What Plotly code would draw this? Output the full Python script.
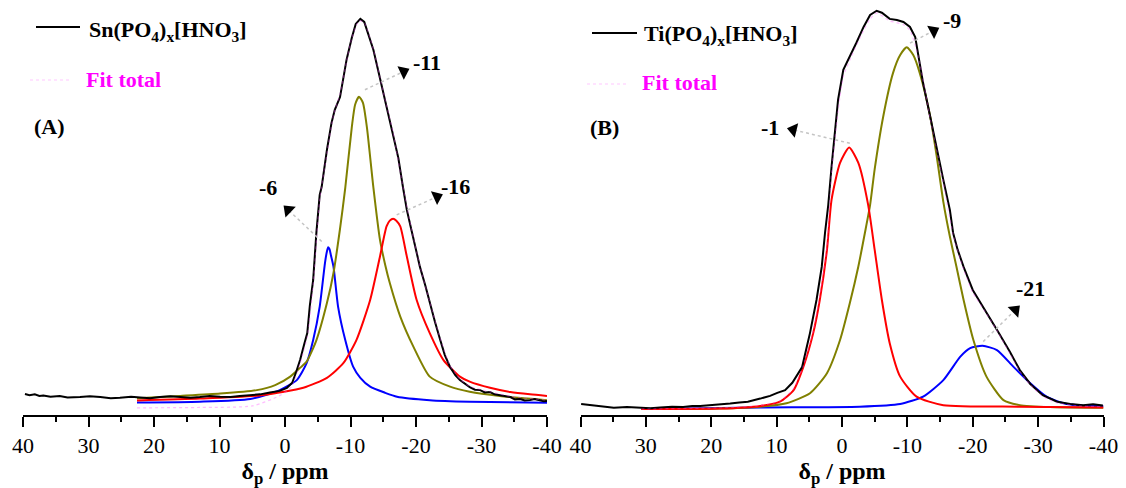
import plotly.graph_objects as go

# ---------------- Panel A : Sn(PO4)x[HNO3] ----------------
sn_exp_ppm = [39.7, 39.0, 38.2, 37.5, 36.9, 35.8, 34.4, 33.2, 31.3, 29.8, 28.2, 26.6, 25.2, 23.5, 22.1, 20.6,
              19.1, 17.5, 16.0, 14.4, 13.0, 11.5, 9.9, 8.3, 6.9, 5.3, 3.8, 2.3, 0.8, -0.3, -1.1, -1.7, -2.3,
              -2.9, -3.4, -3.8, -4.3, -4.8, -5.3, -5.6, -6.4, -7.1, -7.6, -8.4, -9.4, -10.2, -10.8, -11.5,
              -12.1, -12.7, -13.5, -14.2, -15.0, -15.7, -16.5, -17.3, -18.0, -18.6, -19.3, -20.0, -20.6,
              -21.4, -22.1, -22.9, -23.7, -24.4, -25.2, -26.0, -26.7, -27.5, -28.2, -29.0, -29.8, -30.5,
              -31.3, -32.0, -32.8, -33.6, -34.4, -35.1, -35.9, -36.6, -37.4, -38.1, -38.9, -39.5, -40.0]
sn_exp_int = [2.6, 2.3, 2.5, 2.1, 2.2, 1.9, 2.1, 1.7, 1.8, 2.0, 1.8, 1.5, 1.6, 1.9, 1.7, 1.5,
              1.8, 2.0, 1.8, 1.6, 1.8, 2.1, 1.9, 1.8, 2.1, 2.4, 2.5, 3.0, 3.4, 4.2, 5.5, 8.3, 11.4,
              15.3, 18.4, 25.7, 32.2, 44.7, 54.3, 56.4, 66.0, 73.0, 76.4, 79.7, 89.4, 95.1, 98.7, 100.0,
              99.2, 96.1, 91.9, 86.8, 80.8, 75.8, 70.4, 63.9, 56.4, 50.4, 45.2, 40.0, 35.6,
              30.9, 26.2, 21.3, 16.6, 12.7, 9.6, 7.5, 6.2, 5.2, 4.4, 3.7, 3.6, 3.0,
              3.1, 2.5, 2.3, 2.0, 1.8, 1.2, 1.3, 0.9, 1.0, 1.3, 1.0, 0.7, 0.8]

sn_c11_ppm = [22.6, 16.0, 9.9, 4.3, 1.5, -0.8, -2.3, -3.3, -4.8, -6.4, -7.4, -8.4, -9.2, -10.2, -10.7,
              -11.3, -11.9, -12.5, -13.5, -14.5, -15.3, -16.0, -17.6, -19.6, -22.1, -25.2, -28.2, -32.8, -40.0]
sn_c11_int = [1.5, 2.1, 2.7, 3.6, 4.9, 7.1, 9.4, 11.0, 16.6, 26.2, 34.0, 45.5, 56.1, 71.9, 77.7,
              79.8, 78.2, 71.9, 56.1, 42.6, 36.1, 31.4, 22.7, 14.9, 7.1, 4.5, 3.2, 2.1, 1.0]

sn_c6_ppm = [22.6, 13.0, 5.3, 0.8, -1.8, -3.3, -4.3, -5.3, -6.1, -6.4, -6.6, -6.8, -7.0, -7.4, -8.1,
             -9.2, -10.4, -11.5, -13.0, -15.3, -17.1, -22.1, -28.2, -40.0]
sn_c6_int = [0.4, 0.6, 1.3, 3.6, 6.2, 10.6, 16.6, 25.3, 36.6, 39.6, 40.7, 40.2, 38.7, 35.7, 25.3,
             16.6, 9.7, 6.8, 4.5, 2.9, 1.9, 1.0, 0.6, 0.3]

sn_c16_ppm = [22.6, 13.0, 3.3, -2.8, -6.4, -8.9, -10.9, -13.0, -14.5, -15.5, -16.0, -16.5, -17.0, -17.6,
              -18.6, -20.1, -22.1, -24.2, -26.7, -28.2, -31.3, -34.4, -37.4, -40.0]
sn_c16_int = [0.9, 1.4, 2.3, 4.2, 6.8, 10.6, 16.6, 27.0, 38.3, 46.1, 47.6, 48.1, 47.6, 46.1,
              38.3, 27.0, 18.4, 11.4, 7.1, 5.8, 4.2, 3.1, 2.5, 2.1]

sn_fit_ppm = [22.6, 13.0, 5.0, 1.0, -1.0, -2.3, -3.4, -4.3, -5.3, -6.4, -7.4, -8.4, -9.4, -10.2, -11.3,
              -12.1, -13.5, -15.0, -16.5, -18.0, -19.3, -20.6, -22.1, -23.7, -25.2, -26.7, -28.2, -31.3,
              -34.4, -40.0]
sn_fit_int = [-1.0, -0.9, -0.5, 2.0, 4.5, 10.5, 17.5, 31.0, 53.0, 65.0, 75.0, 80.5, 89.0, 95.0, 99.5,
              99.0, 92.0, 81.0, 70.5, 56.5, 45.5, 35.8, 26.5, 17.0, 10.0, 6.5, 4.6, 3.2, 2.0, 1.0]

# ---------------- Panel B : Ti(PO4)x[HNO3] ----------------
ti_exp_ppm = [39.9, 38.8, 37.8, 36.4, 34.9, 32.9, 30.9, 29.3, 27.8, 26.0, 24.3, 22.9, 21.7, 19.9, 18.5,
              17.1, 15.7, 14.4, 12.5, 11.0, 9.9, 8.7, 7.6, 6.9, 6.1, 5.5, 4.9, 3.9, 3.1, 2.6, 2.1, 1.6,
              1.1, 0.6, -0.2, -1.5, -2.2, -3.3, -4.3, -5.3, -6.1, -7.3, -8.4, -9.4, -10.4, -11.2, -11.7,
              -12.4, -13.5, -14.5, -15.5, -16.5, -17.0, -17.7, -18.6, -20.0, -21.9, -23.9, -25.7, -27.2,
              -28.8, -30.7, -32.9, -34.9, -36.9, -38.4, -39.9]
ti_exp_int = [0.0, -0.2, -0.5, -0.8, -1.0, -0.8, -1.0, -1.1, -0.9, -0.7, -0.8, -0.5, -0.5, -0.3, -0.1,
              0.1, 0.4, 0.6, 1.4, 2.1, 2.9, 3.6, 5.5, 7.3, 9.6, 14.0, 18.4, 27.0, 35.6, 44.4, 51.7, 61.6,
              70.4, 79.0, 86.8, 91.2, 93.8, 97.9, 101.0, 102.1, 101.6, 100.0, 99.7, 99.2, 97.9, 95.3, 90.1,
              83.4, 74.5, 66.0, 58.2, 50.4, 44.4, 40.0, 35.6, 29.6, 24.4, 18.7, 13.5, 8.8,
              5.2, 2.3, 0.6, 0.0, -0.3, -0.1, -0.4]

ti_c1_ppm = [30.7, 18.7, 12.5, 9.5, 7.4, 5.9, 4.4, 3.4, 2.3, 1.6, 0.3, -1.1, -2.5, -4.0, -5.0, -6.1,
             -7.3, -8.9, -11.4, -15.5, -27.2, -40.0]
ti_c1_int = [-1.3, -1.2, -0.5, 0.6, 3.6, 9.7, 18.4, 27.0, 40.0, 53.0, 62.6, 66.6, 62.6, 51.7, 40.0, 27.0,
             15.8, 7.1, 1.9, -0.3, -0.7, -0.9]

ti_c9_ppm = [30.7, 18.7, 12.5, 8.5, 4.9, 2.3, 0.3, -1.2, -2.5, -3.5, -4.3, -5.0, -6.3, -7.8, -8.9, -9.9,
             -10.9, -11.9, -13.5, -14.5, -15.5, -16.5, -17.5, -18.6, -20.1, -22.1, -24.7, -27.2, -31.8, -40.0]
ti_c9_int = [-1.3, -1.2, -0.7, 0.2, 2.8, 8.0, 16.6, 26.2, 35.7, 44.4, 51.7, 61.0, 74.6, 85.9, 90.6, 92.6,
             90.6, 85.9, 74.6, 64.2, 52.5, 43.5, 35.7, 27.0, 16.6, 7.1, 1.0, -0.3, -0.8, -1.0]

ti_c21_ppm = [30.7, 12.5, -2.7, -8.9, -12.4, -15.5, -18.1, -19.6, -21.5, -23.7, -26.2, -28.8, -31.3,
              -33.9, -36.4, -40.0]
ti_c21_int = [-1.3, -0.9, -0.7, 0.0, 1.9, 6.2, 12.3, 14.5, 15.1, 14.0, 9.7, 5.4, 1.9, 0.2, -0.4, -0.5]

ti_fit_ppm = [30.7, 18.7, 12.5, 9.5, 7.4, 5.9, 4.4, 3.4, 2.3, 1.6, 0.6, -0.2, -1.5, -3.3, -4.3, -5.3,
              -7.3, -9.4, -10.4, -11.7, -13.5, -15.5, -17.0, -18.6, -20.0, -21.9, -23.9, -25.7, -27.2,
              -28.8, -30.7, -32.9, -36.4, -40.0]
ti_fit_int = [-1.3, -1.0, -0.4, 0.8, 4.0, 10.0, 19.0, 28.0, 41.0, 60.0, 76.0, 85.0, 90.5, 97.0, 100.0,
              101.5, 99.5, 98.5, 97.0, 90.0, 74.0, 57.5, 44.0, 35.0, 29.0, 24.0, 18.5, 13.0, 8.5,
              5.0, 2.0, 0.3, -0.5, -0.7]

# ---------------- peak labels ----------------
a_labels = ["-6", "-11", "-16"]
a_text_ppm = [2.6, -21.7, -26.1]
a_text_int = [56.1, 88.6, 56.4]
a_tail_ppm = [-5.6, -12.2, -17.05]
a_tail_int = [42.2, 81.6, 49.1]
a_head_ppm = [-0.5, -18.1, -23.2]
a_head_int = [50.4, 86.3, 53.8]

b_labels = ["-1", "-9", "-21"]
b_text_ppm = [11.0, -16.8, -28.8]
b_text_int = [71.9, 99.7, 30.1]
b_tail_ppm = [-1.2, -10.4, -21.6]
b_tail_int = [67.7, 93.7, 16.2]
b_head_ppm = [7.45, -14.0, -26.5]
b_head_int = [71.2, 96.9, 24.4]

x_ticks = [40, 30, 20, 10, 0, -10, -20, -30, -40]

FONT = "Liberation Serif"
OLIVE = "#808000"
W, H = 1126, 488

fig = go.Figure()


def add_curve(x, y, color, xa, ya, width=2.0, dash="solid", opacity=1.0, shape="spline"):
    fig.add_trace(go.Scatter(x=x, y=y, mode="lines", xaxis=xa, yaxis=ya, opacity=opacity,
                             line=dict(color=color, width=width, dash=dash, shape=shape,
                                       smoothing=0.6 if shape == "spline" else None),
                             showlegend=False, hoverinfo="skip"))


# Panel A
add_curve(sn_c6_ppm, sn_c6_int, "#0000ff", "x", "y")
add_curve(sn_c11_ppm, sn_c11_int, OLIVE, "x", "y")
add_curve(sn_c16_ppm, sn_c16_int, "#ff0000", "x", "y")
add_curve(sn_exp_ppm, sn_exp_int, "black", "x", "y", width=2.0, shape="linear")
add_curve(sn_fit_ppm, sn_fit_int, "#ff44ff", "x", "y", width=1.2, dash="dot", opacity=0.35)

# Panel B
add_curve(ti_c21_ppm, ti_c21_int, "#0000ff", "x2", "y2")
add_curve(ti_c9_ppm, ti_c9_int, OLIVE, "x2", "y2")
add_curve(ti_c1_ppm, ti_c1_int, "#ff0000", "x2", "y2")
add_curve(ti_exp_ppm, ti_exp_int, "black", "x2", "y2", width=2.0, shape="linear")
add_curve(ti_fit_ppm, ti_fit_int, "#ff44ff", "x2", "y2", width=1.2, dash="dot", opacity=0.35)


def add_labels(labels, tx, ty, px, py, hx, hy, xa, ya):
    for i, lab in enumerate(labels):
        fig.add_trace(go.Scatter(x=[px[i], hx[i]], y=[py[i], hy[i]], mode="lines",
                                 xaxis=xa, yaxis=ya,
                                 line=dict(color="#c4c4c4", width=1.5, dash="dot"),
                                 showlegend=False, hoverinfo="skip"))
        fig.add_trace(go.Scatter(x=[px[i], hx[i]], y=[py[i], hy[i]], mode="markers",
                                 xaxis=xa, yaxis=ya,
                                 marker=dict(symbol="triangle-up", size=[0, 13], color="#000000",
                                             opacity=1, angleref="previous", angle=0,
                                             line=dict(width=0, color="#000000")),
                                 showlegend=False, hoverinfo="skip"))
        fig.add_annotation(x=tx[i], y=ty[i], xref=xa, yref=ya, text=lab, showarrow=False,
                           font=dict(family=FONT, size=22, color="black", weight="bold"))


add_labels(a_labels, a_text_ppm, a_text_int, a_tail_ppm, a_tail_int, a_head_ppm, a_head_int, "x", "y")
add_labels(b_labels, b_text_ppm, b_text_int, b_tail_ppm, b_tail_int, b_head_ppm, b_head_int, "x2", "y2")

PLOT_BOTTOM = 415  # pixel row of the x-axis line


def px(x):
    return x / W


def py(y):
    return (PLOT_BOTTOM - y) / PLOT_BOTTOM


# legends (drawn manually, one per panel)
legend_items = [
    (36, 80, 27, 87, 31, "Sn(PO<sub>4</sub>)<sub>x</sub>[HNO<sub>3</sub>]", 30, 70, 80, 84, 80, 32, 126, "(A)"),
    (592, 637, 33, 642, 35, "Ti(PO<sub>4</sub>)<sub>x</sub>[HNO<sub>3</sub>]", 587, 627, 84, 640, 83, 588, 127, "(B)"),
]
for (lx0, lx1, ly, tx, ty, name, fx0, fx1, fy, ftx, fty, plx, ply, plab) in legend_items:
    fig.add_shape(type="line", xref="paper", yref="paper", x0=px(lx0), x1=px(lx1), y0=py(ly), y1=py(ly),
                  line=dict(color="black", width=2))
    fig.add_annotation(x=px(tx), y=py(ty), xref="paper", yref="paper", text=name, showarrow=False,
                       xanchor="left", yanchor="middle",
                       font=dict(family=FONT, size=22, color="black", weight="bold"))
    fig.add_shape(type="line", xref="paper", yref="paper", x0=px(fx0), x1=px(fx1), y0=py(fy), y1=py(fy),
                  line=dict(color="#ff66ff", width=1.2, dash="dot"), opacity=0.35)
    fig.add_annotation(x=px(ftx), y=py(fty), xref="paper", yref="paper", text="Fit total", showarrow=False,
                       xanchor="left", yanchor="middle",
                       font=dict(family=FONT, size=22, color="#ff00ff", weight="bold"))
    fig.add_annotation(x=px(plx), y=py(ply), xref="paper", yref="paper", text=plab, showarrow=False,
                       xanchor="left", yanchor="middle",
                       font=dict(family=FONT, size=22, color="black", weight="bold"))

xaxis_common = dict(
    range=[40, -40], tickmode="array", tickvals=x_ticks, ticktext=[str(v) for v in x_ticks],
    ticks="outside", ticklen=10, tickwidth=2, tickcolor="black",
    showline=True, linecolor="black", linewidth=2, mirror=False,
    showgrid=False, zeroline=False, automargin=False,
    minor=dict(dtick=5, tick0=0, ticks="outside", ticklen=5, tickwidth=2, tickcolor="black", showgrid=False),
    tickfont=dict(family=FONT, size=22, color="black"),
    title=dict(text="δ<sub>p</sub> / ppm", font=dict(family=FONT, size=24, color="black", weight="bold"),
               standoff=4),
    fixedrange=True,
)
yaxis_common = dict(range=[-2.86, 104.9], visible=False, showgrid=False, zeroline=False,
                    fixedrange=True, automargin=False)

fig.update_layout(
    width=W, height=H,
    margin=dict(l=0, r=0, t=0, b=H - PLOT_BOTTOM, autoexpand=False),
    paper_bgcolor="white", plot_bgcolor="white",
    showlegend=False,
    xaxis=dict(domain=[23 / W, 547 / W], anchor="y", **xaxis_common),
    yaxis=dict(domain=[0, 1], anchor="x", **yaxis_common),
    xaxis2=dict(domain=[580.5 / W, 1103.5 / W], anchor="y2", **xaxis_common),
    yaxis2=dict(domain=[0, 1], anchor="x2", **yaxis_common),
)

fig.write_html("out.html")
